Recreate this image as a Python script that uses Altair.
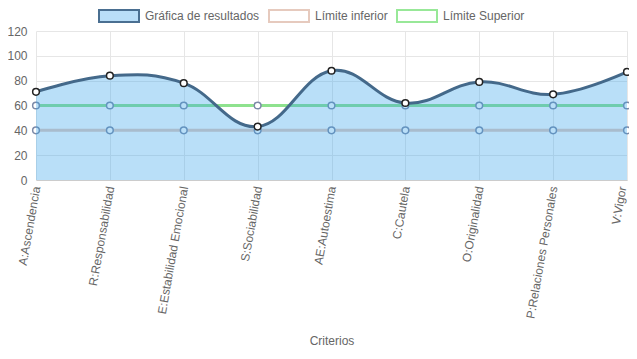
import altair as alt
import pandas as pd

criterios = ["A:Ascendencia", "R:Responsabilidad", "E:Estabilidad Emocional",
             "S:Sociabilidad", "AE:Autoestima", "C:Cautela", "O:Originalidad",
             "P:Relaciones Personales", "V:Vigor"]
resultados = [71, 84, 78, 43, 88, 62, 79, 69, 87]
limite_inferior = [40, 40, 40, 40, 40, 40, 40, 40, 40]
limite_superior = [60, 60, 60, 60, 60, 60, 60, 60, 60]
series = ["Gráfica de resultados", "Límite inferior", "Límite Superior"]
y_ticks = [0, 20, 40, 60, 80, 100, 120]

FONT = "Liberation Sans"
TXT = "#666666"
GRID = "#e6e6e6"

main_df = pd.DataFrame({"criterio": criterios, "valor": resultados})
inf_df = pd.DataFrame({"criterio": criterios, "valor": limite_inferior})
sup_df = pd.DataFrame({"criterio": criterios, "valor": limite_superior})
legend_df = pd.DataFrame({"criterio": [criterios[0]] * 3, "valor": [None] * 3, "serie": series})

x_enc = alt.X(
    "criterio:N", sort=criterios,
    scale=alt.Scale(domain=criterios, padding=0),
    axis=alt.Axis(
        title="Criterios", titleFont=FONT, titleFontSize=12, titleFontWeight="normal",
        titleColor=TXT, titleY=160, titleBaseline="middle",
        labelAngle=-80, labelAlign="right", labelBaseline="middle",
        labelFont=FONT, labelFontSize=12, labelColor=TXT, labelPadding=6,
        labelOffset=alt.condition("datum.index === 1", alt.value(-5), alt.value(0)),
        ticks=False, domain=True, domainColor="#cccccc", domainWidth=1,
        grid=True, gridColor=GRID, labelOverlap=False, labelLimit=0,
    ),
)
y_enc = alt.Y(
    "valor:Q",
    scale=alt.Scale(domain=[0, 120], nice=False),
    axis=alt.Axis(
        title=None, values=y_ticks, labelFont=FONT, labelFontSize=12, labelColor=TXT,
        labelPadding=9, ticks=False, domain=False, grid=True, gridColor=GRID,
    ),
)

interp = dict(interpolate="cardinal", tension=-0.2)

inf_line = alt.Chart(inf_df).mark_line(color="#e6c9bd", strokeWidth=3).encode(x=x_enc, y=y_enc)
sup_line = alt.Chart(sup_df).mark_line(color="#8ee28e", strokeWidth=3).encode(x=x_enc, y=y_enc)
inf_pts = alt.Chart(inf_df).mark_point(filled=True, fill="white", stroke="#7c8aa8",
                                        strokeWidth=1.5, size=45, opacity=1).encode(x=x_enc, y=y_enc)
sup_pts = alt.Chart(sup_df).mark_point(filled=True, fill="white", stroke="#7c8aa8",
                                        strokeWidth=1.5, size=45, opacity=1).encode(x=x_enc, y=y_enc)

area = alt.Chart(main_df).mark_area(color="rgb(54,162,235)", opacity=0.35, **interp).encode(x=x_enc, y=y_enc)
line = alt.Chart(main_df).mark_line(color="#44698a", strokeWidth=3, **interp).encode(x=x_enc, y=y_enc)
pts = alt.Chart(main_df).mark_point(filled=True, fill="white", stroke="#222222",
                                    strokeWidth=1.5, size=45, opacity=1).encode(x=x_enc, y=y_enc)

sym = "M-1,-0.3H1V0.3H-1Z"
leg = alt.Legend(
    title=None, orient="none", legendX=62, legendY=-36, direction="horizontal",
    symbolType=sym, symbolSize=1600, symbolStrokeWidth=2,
    labelFont=FONT, labelFontSize=12, labelColor=TXT, labelOffset=5,
    columnPadding=5, padding=0, labelLimit=0,
)
legend_layer = alt.Chart(legend_df).mark_point(shape=sym, filled=True, opacity=1, strokeWidth=2).encode(
    x=x_enc, y=y_enc,
    fill=alt.Fill("serie:N", sort=series,
                  scale=alt.Scale(domain=series, range=["#b9def8", "#ffffff", "#ffffff"]), legend=leg),
    stroke=alt.Stroke("serie:N", sort=series,
                      scale=alt.Scale(domain=series, range=["#4a6f91", "#e6cabe", "#98e898"]), legend=leg),
)

chart = alt.layer(inf_line, sup_line, inf_pts, sup_pts, area, line, pts, legend_layer).properties(
    width=591, height=149,
    autosize=alt.AutoSizeParams(type="none"),
    padding={"left": 28, "top": 23, "right": 2, "bottom": 166},
    background="white",
).configure_view(stroke=None)

chart.save("out.html", embed_options={"renderer": "svg", "actions": False})
